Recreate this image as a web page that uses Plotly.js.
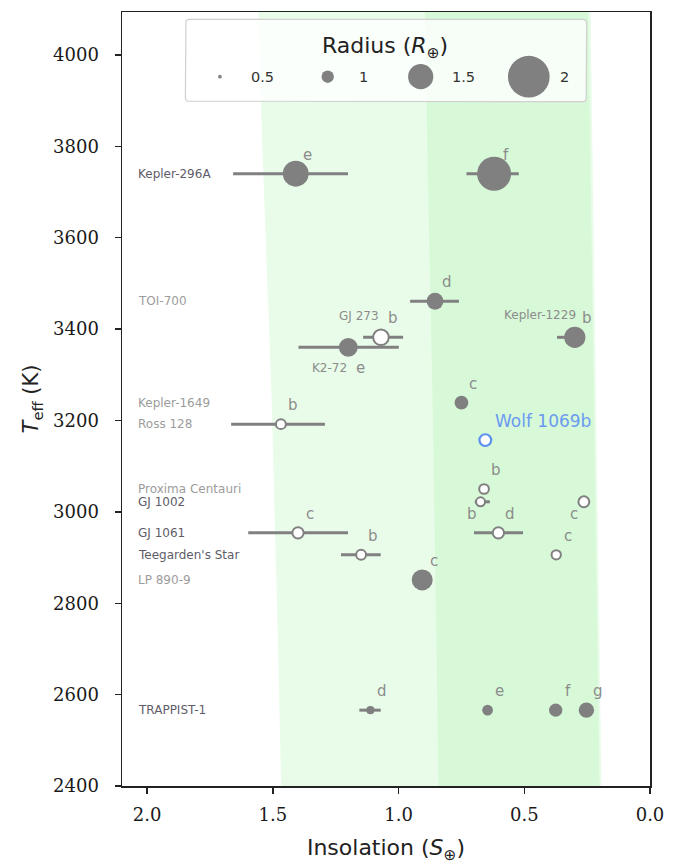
<!DOCTYPE html>
<html><head><meta charset="utf-8">
<script src="https://cdn.plot.ly/plotly-3.0.1.min.js"></script>
<style>html,body{margin:0;padding:0;background:#fff}#chart{width:682px;height:864px}</style>
</head><body><div id="chart"></div>
<script>
// ---------------- data ----------------
const planetNames = ['Kepler-296 e','Kepler-296 f','TOI-700 d','GJ 273 b','K2-72 e','Kepler-1229 b','Kepler-1649 c','Ross 128 b','Wolf 1069 b','Proxima Centauri b','GJ 1002 b','GJ 1002 c','GJ 1061 c','GJ 1061 d',"Teegarden's Star b","Teegarden's Star c",'LP 890-9 c','TRAPPIST-1 d','TRAPPIST-1 e','TRAPPIST-1 f','TRAPPIST-1 g'];
const planetLetters = ['e','f','d','b','e','b','c','b','','b','b','c','c','d','b','c','c','d','e','f','g'];
const insolation     = [1.409,0.620,0.855,1.070,1.200,0.299,0.750,1.468,0.655,0.660,0.674,0.263,1.400,0.603,1.149,0.373,0.906,1.112,0.646,0.375,0.253];
const insolationLow  = [1.201,0.522,0.760,0.982,0.999,0.275,0.730,1.293,0.655,0.660,0.637,0.263,1.201,0.505,1.071,0.373,0.906,1.071,0.632,0.375,0.253];
const insolationHigh = [1.658,0.730,0.954,1.141,1.398,0.370,0.770,1.666,0.655,0.660,0.697,0.263,1.598,0.700,1.229,0.373,0.906,1.156,0.660,0.375,0.253];
const teff           = [3740,3740,3461,3382,3360,3382,3239,3192,3157,3050,3022,3022,2954,2954,2906,2906,2851,2566,2566,2566,2566];
const radius         = [1.52,1.78,1.19,1.14,1.27,1.36,1.06,0.88,0.97,0.87,0.83,0.93,0.95,0.95,0.88,0.85,1.35,0.79,0.92,1.04,1.13];
const radiusMeasured = [true,true,true,false,true,true,true,false,false,false,false,false,false,false,false,false,true,true,true,true,true];
const highlightPlanet = 'Wolf 1069 b';
const highlightLabel = 'Wolf 1069b';

const starLabels    = ['Kepler-296A','TOI-700','Kepler-1649','Ross 128','Proxima Centauri','GJ 1002','GJ 1061',"Teegarden's Star",'LP 890-9','TRAPPIST-1'];
const starLabelTeff = [3740,3461,3239,3192,3050,3022,2954,2906,2851,2566];
const inlineStarLabels  = ['GJ 273','Kepler-1229','K2-72'];
const inlineStarPlanets = ['GJ 273 b','Kepler-1229 b','K2-72 e'];

// habitable zone edges (Kopparapu-style), vs Teff
const hzTeff             = [2400, 2700, 3250, 3800, 4100];
const hzOptimisticInner  = [1.467,1.479,1.505,1.542,1.558];
const hzOptimisticOuter  = [0.193,0.201,0.215,0.229,0.236];
const hzConservativeInner= [0.842,0.849,0.865,0.886,0.894];
const hzConservativeOuter= [0.201,0.209,0.223,0.238,0.246];

const legendRadii = [0.5, 1, 1.5, 2];
const legendLabels = ['0.5','1','1.5','2'];
const xTicks = [2.0,1.5,1.0,0.5,0.0];
const yTicks = [2400,2600,2800,3000,3200,3400,3600,3800,4000];

// ---------------- styling / layout helpers ----------------
const W = 682, H = 864, ML = 122, MR = 32, MT = 12, MB = 78;
const PW = W - ML - MR, PH = H - MT - MB;
const fx = px => (px - ML) / PW;
const fy = py => (H - MB - py) / PH;
const sizeOf = r => 12.4 * Math.pow(r, 1.75);
const GREY = '#808080', BLUE = '#5b8ff0';
const SANS = 'DejaVu Sans, sans-serif';
const darkStars = ['Kepler-296A','GJ 1002','GJ 1061',"Teegarden's Star",'TRAPPIST-1'];
const letterOffsetDefault = [12, 19];
const letterOffsetSpecial = {'K2-72 e':[12,-21], 'GJ 1002 b':[-9,-12.5], 'GJ 1002 c':[-10,-12.5]};
const inlineOffset = {'GJ 273 b':[0,21], 'Kepler-1229 b':[3,22], 'K2-72 e':[1,-21]};

function hzPolygon(inner, outer){
  return {
    x: inner.concat(outer.slice().reverse()),
    y: hzTeff.concat(hzTeff.slice().reverse()),
    type:'scatter', mode:'lines', fill:'toself',
    fillcolor:'rgba(144,238,144,0.2)', line:{width:0,color:'rgba(0,0,0,0)'},
    hoverinfo:'skip', showlegend:false
  };
}

function subset(pred){
  const idx = planetNames.map((n,i)=>i).filter(pred);
  return {
    x: idx.map(i=>insolation[i]),
    y: idx.map(i=>teff[i]),
    plus: idx.map(i=>insolationHigh[i]-insolation[i]),
    minus: idx.map(i=>insolation[i]-insolationLow[i]),
    size: idx.map(i=>sizeOf(radius[i])),
    text: idx.map(i=>planetNames[i])
  };
}
function planetTrace(s, fill, lineColor, lineWidth){
  return {
    x:s.x, y:s.y, text:s.text, type:'scatter', mode:'markers', showlegend:false,
    marker:{size:s.size, color:fill, line:{color:lineColor, width:lineWidth}, opacity:1},
    error_x:{type:'data', symmetric:false, array:s.plus, arrayminus:s.minus, color:GREY, thickness:3, width:0},
    hoverinfo:'text'
  };
}

const filled = subset(i => radiusMeasured[i] && planetNames[i] !== highlightPlanet);
const open = subset(i => !radiusMeasured[i] && planetNames[i] !== highlightPlanet);
const hl = subset(i => planetNames[i] === highlightPlanet);

// legend box (rounded rectangle) in overlay paper-like axes
const box = {x0:185.4, x1:586.7, y0:19.3, y1:101.7, r:4};
function roundedRect(b){
  const pts = [];
  const corners = [[b.x1-b.r, b.y0+b.r, -90], [b.x1-b.r, b.y1-b.r, 0], [b.x0+b.r, b.y1-b.r, 90], [b.x0+b.r, b.y0+b.r, 180]];
  corners.forEach(([cx,cy,a0])=>{
    for(let k=0;k<=6;k++){
      const a=(a0+k*15)*Math.PI/180;
      pts.push([cx+b.r*Math.cos(a), cy+b.r*Math.sin(a)]);
    }
  });
  pts.push(pts[0]);
  return {x:pts.map(p=>fx(p[0])), y:pts.map(p=>fy(p[1]))};
}
const rr = roundedRect(box);
const legendBox = {x:rr.x, y:rr.y, xaxis:'x2', yaxis:'y2', type:'scatter', mode:'lines', fill:'toself',
  fillcolor:'rgba(255,255,255,0.8)', line:{color:'#d0d0d0', width:1.2}, hoverinfo:'skip', showlegend:false};
const legendMarkerPx = [219.9, 327.7, 420.7, 528.8];
const legendLabelPx = [262.9, 363.5, 463.4, 564.3];
const legendRowPy = 76.7;
const legendMarkers = {x:legendMarkerPx.map(fx), y:legendRadii.map(()=>fy(legendRowPy)), xaxis:'x2', yaxis:'y2',
  type:'scatter', mode:'markers', marker:{size:legendRadii.map(sizeOf), color:GREY, line:{width:0}, opacity:1},
  hoverinfo:'skip', showlegend:false};

const data = [
  hzPolygon(hzOptimisticInner, hzOptimisticOuter),
  hzPolygon(hzConservativeInner, hzConservativeOuter),
  planetTrace(filled, GREY, GREY, 0),
  planetTrace(open, '#ffffff', GREY, 2),
  planetTrace(hl, '#ffffff', BLUE, 2.2),
  legendBox, legendMarkers
];

// annotations
const ann = [];
starLabels.forEach((s,i)=>{
  const dark = darkStars.includes(s);
  ann.push({x:2.045, y:starLabelTeff[i], xref:'x', yref:'y', text:s, showarrow:false, xanchor:'left', yanchor:'middle',
    font:{family:SANS, size:12, color: dark ? '#5e5c68' : '#9c9c9c'}});
});
planetNames.forEach((n,i)=>{
  if(!planetLetters[i]) return;
  const off = letterOffsetSpecial[n] || letterOffsetDefault;
  ann.push({x:insolation[i], y:teff[i], xref:'x', yref:'y', text:planetLetters[i], showarrow:false,
    xanchor:'center', yanchor:'middle', xshift:off[0], yshift:off[1], font:{family:SANS, size:15, color:'#8c8c8c'}});
});
inlineStarLabels.forEach((s,j)=>{
  const i = planetNames.indexOf(inlineStarPlanets[j]);
  const off = inlineOffset[inlineStarPlanets[j]];
  ann.push({x:insolation[i], y:teff[i], xref:'x', yref:'y', text:s, showarrow:false, xanchor:'right', yanchor:'middle',
    xshift:off[0], yshift:off[1], font:{family:SANS, size:12, color:'#8c8c8c'}});
});
{
  const i = planetNames.indexOf(highlightPlanet);
  ann.push({x:insolation[i], y:teff[i], xref:'x', yref:'y', text:highlightLabel, showarrow:false, xanchor:'left', yanchor:'middle',
    xshift:8, yshift:19, font:{family:SANS, size:17, color:'#6b9bf0'}});
}
// legend texts
ann.push({x:fx(385.2), y:fy(47.3), xref:'paper', yref:'paper', text:'Radius (<i>R</i><sub>⊕</sub>)', showarrow:false,
  xanchor:'center', yanchor:'middle', font:{family:SANS, size:22, color:'#222'}});
legendLabels.forEach((t,k)=>{
  ann.push({x:fx(legendLabelPx[k]), y:fy(legendRowPy), xref:'paper', yref:'paper', text:t, showarrow:false,
    xanchor:'center', yanchor:'middle', font:{family:SANS, size:14.5, color:'#333'}});
});

const axisCommon = {showgrid:false, zeroline:false, showline:true, mirror:true, linecolor:'#222', linewidth:1.5,
  ticks:'outside', ticklen:6, tickwidth:1.3, tickcolor:'#222',
  tickfont:{family:'DejaVu Serif, serif', size:18, color:'#1a1a1a'}};

const layout = {
  width:W, height:H, margin:{l:ML, r:MR, t:MT, b:MB, pad:0},
  paper_bgcolor:'#fff', plot_bgcolor:'#fff', showlegend:false,
  xaxis:Object.assign({}, axisCommon, {range:[2.1, 0], tickvals:xTicks, ticktext:xTicks.map(v=>v.toFixed(1)), ticklabelstandoff:6,
    title:{text:'Insolation (<i>S</i><sub>⊕</sub>)', font:{family:SANS, size:22, color:'#222'}, standoff:16}}),
  yaxis:Object.assign({}, axisCommon, {range:[2400, 4094], tickvals:yTicks, ticktext:yTicks.map(String), ticklabelstandoff:12,
    title:{text:'<i>T</i><sub>eff</sub> (K)', font:{family:SANS, size:21, color:'#222'}, standoff:8}}),
  xaxis2:{overlaying:'x', range:[0,1], visible:false, fixedrange:true},
  yaxis2:{overlaying:'y', range:[0,1], visible:false, fixedrange:true},
  annotations:ann
};

Plotly.newPlot('chart', data, layout, {displayModeBar:false, staticPlot:true});
</script></body></html>
